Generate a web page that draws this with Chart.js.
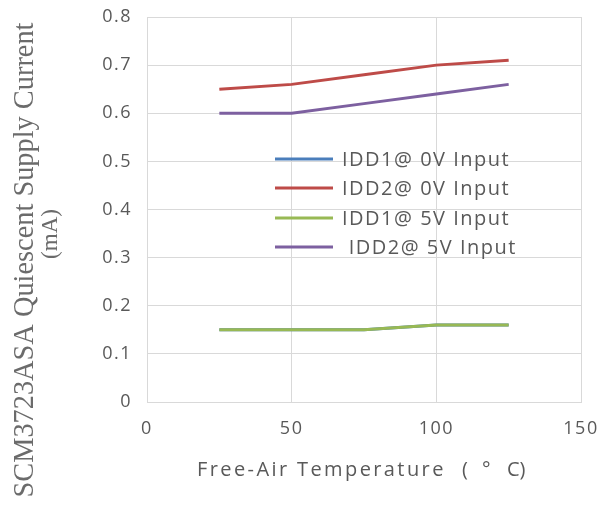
<!DOCTYPE html>
<html>
<head>
<meta charset="utf-8">
<script src="https://cdn.jsdelivr.net/npm/chart.js@4"></script>
<style>
  html, body { margin: 0; padding: 0; background: #fff; }
  #wrap { width: 603px; height: 508px; }
</style>
</head>
<body>
<div id="wrap"><canvas id="chart" width="603" height="508"></canvas></div>
<script>
const temps = [25, 50, 75, 100, 125];
const idd1_0v = [0.15, 0.15, 0.15, 0.16, 0.16];
const idd2_0v = [0.65, 0.66, 0.68, 0.70, 0.71];
const idd1_5v = [0.15, 0.15, 0.15, 0.16, 0.16];
const idd2_5v = [0.60, 0.60, 0.62, 0.64, 0.66];
const labels = ['IDD1@ 0V Input', 'IDD2@ 0V Input', 'IDD1@ 5V Input', ' IDD2@ 5V Input'];
const colors = ['#4a7ebb', '#be4b48', '#98b954', '#7d60a0'];

const series = [idd1_0v, idd2_0v, idd1_5v, idd2_5v];
const toPoints = vals => temps.map((t, i) => ({ x: t, y: vals[i] }));

const spacing = {
  id: 'spacing',
  beforeDraw(chart) { chart.ctx.letterSpacing = '1.5px'; }
};

// legend inside the plot, the axis titles
const extras = {
  id: 'extras',
  afterDraw(chart) {
    const ctx = chart.ctx;
    ctx.save();
    ctx.letterSpacing = '1.5px';
    ctx.font = '20px "Open Sans", sans-serif';
    ctx.textBaseline = 'middle';
    const rows = [159, 188, 218, 247];
    labels.forEach((lab, i) => {
      ctx.strokeStyle = colors[i];
      ctx.lineWidth = 3;
      ctx.beginPath();
      ctx.moveTo(275, rows[i]);
      ctx.lineTo(333, rows[i]);
      ctx.stroke();
      ctx.fillStyle = '#595959';
      ctx.fillText(lab, 342, rows[i] + 1);
    });
    ctx.restore();

    // x title
    ctx.save();
    ctx.fillStyle = '#595959';
    ctx.textBaseline = 'alphabetic';
    ctx.font = '20px "Open Sans", sans-serif';
    ctx.letterSpacing = '2.4px';
    ctx.fillText('Free-Air Temperature', 197, 476);
    ctx.letterSpacing = '0px';
    ctx.fillText('(', 462, 476);
    ctx.fillText('°', 482, 476);
    ctx.fillText('C)', 507, 476);
    ctx.restore();

    // y title
    ctx.save();
    ctx.letterSpacing = '0px';
    ctx.fillStyle = '#6b6b6b';
    ctx.textAlign = 'center';
    ctx.textBaseline = 'alphabetic';
    ctx.font = '29px "Liberation Serif", serif';
    const t1 = 'SCM3723ASA Quiescent Supply Current';
    const w1 = ctx.measureText(t1).width;
    ctx.translate(33, 260);
    ctx.rotate(-Math.PI / 2);
    ctx.scale(475 / w1, 1);
    ctx.fillText(t1, 0, 0);
    ctx.restore();

    ctx.save();
    ctx.letterSpacing = '0px';
    ctx.fillStyle = '#6b6b6b';
    ctx.textAlign = 'center';
    ctx.font = '23px "Liberation Serif", serif';
    ctx.translate(57, 234);
    ctx.rotate(-Math.PI / 2);
    ctx.fillText('(mA)', 0, 0);
    ctx.restore();
  }
};

new Chart(document.getElementById('chart'), {
  type: 'line',
  data: {
    datasets: series.map((vals, i) => ({
      label: labels[i],
      data: toPoints(vals),
      borderColor: colors[i],
      backgroundColor: colors[i],
      borderWidth: 3,
      pointRadius: 0,
      tension: 0,
      order: i === 0 ? 10 : i
    }))
  },
  options: {
    responsive: false,
    animation: false,
    layout: { padding: { left: 0, right: 22, top: 17, bottom: 0 } },
    plugins: { legend: { display: false }, tooltip: { enabled: false } },
    scales: {
      x: {
        type: 'linear',
        min: 0, max: 150,
        ticks: { stepSize: 50, color: '#595959', font: { size: 18, family: '"Open Sans", sans-serif' }, padding: 16 },
        grid: { color: '#d9d9d9', drawTicks: false },
        border: { color: '#d9d9d9' },
        afterFit(axis) {
          axis.height = 106;
          axis.paddingLeft = 0;
          axis.paddingRight = 0;
        }
      },
      y: {
        min: 0, max: 0.8,
        ticks: { stepSize: 0.1, color: '#595959', font: { size: 18, family: '"Open Sans", sans-serif' }, padding: 15,
          callback: v => v === 0 ? '0' : v.toFixed(1) },
        grid: { color: '#d9d9d9', drawTicks: false },
        border: { color: '#d9d9d9' },
        afterFit(axis) {
          axis.width = 147;
          axis.paddingTop = 0;
          axis.paddingBottom = 0;
        }
      }
    }
  },
  plugins: [spacing, extras]
});
</script>
</body>
</html>
